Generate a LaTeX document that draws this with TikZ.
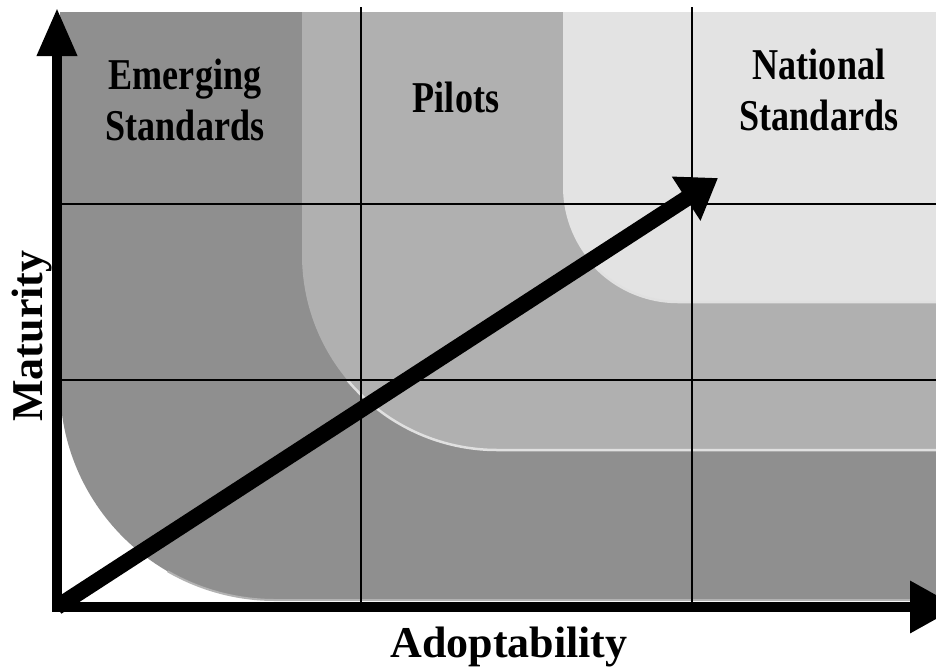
\documentclass[tikz,border=0pt]{standalone}
\usepackage{fontspec}
\setmainfont{Liberation Serif}
\newfontfamily\zonefont[FakeStretch=0.82]{Liberation Serif}
\usetikzlibrary{arrows.meta}
\definecolor{zonedark}{gray}{0.56}
\definecolor{zonemid}{gray}{0.69}
\definecolor{zonelight}{gray}{0.89}
\tikzset{
	bevel/.style={draw=white!88!black, line width=2.5pt},
	gridline/.style={line width=2pt},
	axis/.style={line width=10pt, line cap=rect, -{Triangle[length=48pt,width=#1]}},
	trend/.style={line width=16pt, -{Triangle[length=38pt,width=50pt]}},
	zonelabel/.style={font=\zonefont\bfseries\fontsize{44}{51}\selectfont, align=center, anchor=base},
	axislabel/.style={font=\bfseries\fontsize{44}{50}\selectfont, anchor=base},
}
\begin{document}
\begin{tikzpicture}[x=1pt, y=-1pt, line join=miter]
	\useasboundingbox (0,0) rectangle (936,667);
	\path%points
	(57,607) coordinate (O)
	(57,8) coordinate (Y)
	(958,607) coordinate (X)
	(718,178) coordinate (T)
	(361,7) coordinate (G1) (692,7) coordinate (G2)
	(57,204) coordinate (H1) (57,380) coordinate (H2)
	;
	% zones
	\fill[zonedark] (1000,12) -- (60,12) -- (60,385) arc[start angle=180, end angle=90, radius=215] -- (1000,600) -- cycle;
	\fill[zonemid] (1000,12) -- (302,12) -- (302,255) arc[start angle=180, end angle=90, radius=195] -- (1000,450) -- cycle;
	\fill[zonelight] (1000,12) -- (563,12) -- (563,187) arc[start angle=180, end angle=90, radius=115] -- (1000,302) -- cycle;
	\draw[bevel] ([shift={(140:195)}]497,255) arc[start angle=140, end angle=90, radius=195] -- (1000,450);
	\draw[bevel] ([shift={(140:115)}]678,187) arc[start angle=140, end angle=90, radius=115] -- (1000,302);
	\draw[bevel, draw=white!70!black, line width=2pt] ([shift={(120:215)}]275,385) arc[start angle=120, end angle=90, radius=215] -- (1000,600);
	% grid
	\draw[gridline] (G1) -- (G1 |- O) (G2) -- (G2 |- O) (H1) -- ++(1000,0) (H2) -- ++(1000,0);
	% axes
	\draw[axis=38pt] (O) -- (Y);
	\draw[axis=50pt] (O) -- (X);
	\draw[trend] (O) -- (T);
	\foreach \p/\t/\n in {{185,140}/{Emerging\\Standards}/emerging, {456,112}/{Pilots}/pilots, {819,130}/{National\\Standards}/national}
	\node[zonelabel] (lbl-\n) at (\p) {\t};
	\node[axislabel, rotate=90] (maturity) at (42,336) {Maturity};
	\node[axislabel] (adoptability) at (509,657) {Adoptability};
\end{tikzpicture}
\end{document}
